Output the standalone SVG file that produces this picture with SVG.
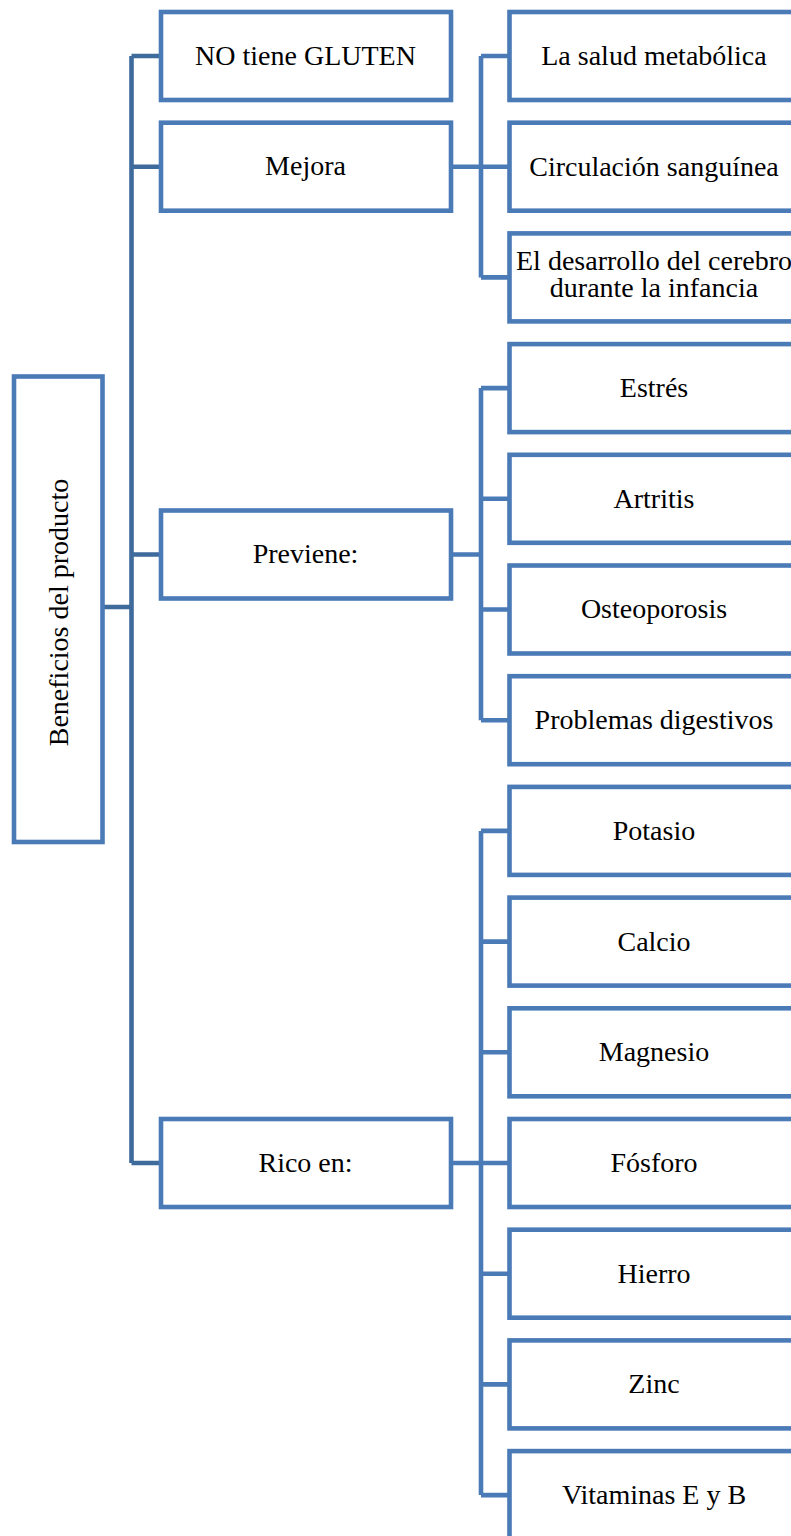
<svg xmlns="http://www.w3.org/2000/svg" width="791" height="1536" viewBox="0 0 791 1536">
  <style>
    .box { fill: #ffffff; stroke: #4a7bb7; stroke-width: 4.6; }
    .lbl { font-family: "Liberation Serif", "Times New Roman", serif; font-size: 28px; fill: #000000; text-anchor: middle; }
    .trunk { fill: none; stroke: #3e6a9c; stroke-width: 4.6; stroke-linejoin: round; }
    .branch { fill: none; stroke: #4a7bb7; stroke-width: 4.6; stroke-linejoin: round; }
  </style>
  <rect width="791" height="1536" fill="#ffffff"/>

  <!-- connectors -->
  <g id="connectors">
    <!-- root to first level -->
    <path class="trunk" d="M102.5 607 H131.5 M131.5 56 V1163 M131.5 56 H161 M131.5 166.7 H161 M131.5 554.5 H161 M131.5 1163 H161"/>
    <!-- Mejora children -->
    <path class="branch" d="M451 166.7 H481 M481 56 V277.4 M481 56 H509.5 M481 166.7 H509.5 M481 277.4 H509.5"/>
    <!-- Previene children -->
    <path class="branch" d="M451 554.5 H481 M481 388.1 V720.2 M481 388.1 H509.5 M481 498.8 H509.5 M481 609.5 H509.5 M481 720.2 H509.5"/>
    <!-- Rico en children -->
    <path class="branch" d="M451 1163 H481 M481 830.9 V1495.1 M481 830.9 H509.5 M481 941.6 H509.5 M481 1052.3 H509.5 M481 1163 H509.5 M481 1273.7 H509.5 M481 1384.4 H509.5 M481 1495.1 H509.5"/>
  </g>

  <!-- root -->
  <g id="root">
    <rect class="box" x="14" y="376.5" width="88.5" height="465.5"/>
    <text class="lbl" transform="translate(67.5 612.5) rotate(-90)">Beneficios del producto</text>
  </g>

  <!-- first level -->
  <g id="n-gluten">
    <rect class="box" x="161" y="12" width="290" height="88"/>
    <text class="lbl" x="305.5" y="64.5">NO tiene GLUTEN</text>
  </g>
  <g id="n-mejora">
    <rect class="box" x="161" y="122.7" width="290" height="88"/>
    <text class="lbl" x="305.5" y="175">Mejora</text>
  </g>
  <g id="n-previene">
    <rect class="box" x="161" y="510.5" width="290" height="88"/>
    <text class="lbl" x="305.5" y="563">Previene:</text>
  </g>
  <g id="n-rico">
    <rect class="box" x="161" y="1119" width="290" height="88"/>
    <text class="lbl" x="305.5" y="1172">Rico en:</text>
  </g>

  <!-- second level -->
  <g id="n-metabolica">
    <rect class="box" x="509.5" y="12" width="290" height="88"/>
    <text class="lbl" x="654" y="64.5">La salud metabólica</text>
  </g>
  <g id="n-circulacion">
    <rect class="box" x="509.5" y="122.7" width="290" height="88"/>
    <text class="lbl" x="654" y="175.5">Circulación sanguínea</text>
  </g>
  <g id="n-cerebro">
    <rect class="box" x="509.5" y="233.4" width="290" height="88"/>
    <text class="lbl" x="654" y="270">El desarrollo del cerebro</text>
    <text class="lbl" x="654" y="297">durante la infancia</text>
  </g>
  <g id="n-estres">
    <rect class="box" x="509.5" y="344.1" width="290" height="88"/>
    <text class="lbl" x="654" y="397">Estrés</text>
  </g>
  <g id="n-artritis">
    <rect class="box" x="509.5" y="454.8" width="290" height="88"/>
    <text class="lbl" x="654" y="507.5">Artritis</text>
  </g>
  <g id="n-osteoporosis">
    <rect class="box" x="509.5" y="565.5" width="290" height="88"/>
    <text class="lbl" x="654" y="618">Osteoporosis</text>
  </g>
  <g id="n-digestivos">
    <rect class="box" x="509.5" y="676.2" width="290" height="88"/>
    <text class="lbl" x="654" y="729">Problemas digestivos</text>
  </g>
  <g id="n-potasio">
    <rect class="box" x="509.5" y="786.9" width="290" height="88"/>
    <text class="lbl" x="654" y="840">Potasio</text>
  </g>
  <g id="n-calcio">
    <rect class="box" x="509.5" y="897.6" width="290" height="88"/>
    <text class="lbl" x="654" y="950.5">Calcio</text>
  </g>
  <g id="n-magnesio">
    <rect class="box" x="509.5" y="1008.3" width="290" height="88"/>
    <text class="lbl" x="654" y="1061">Magnesio</text>
  </g>
  <g id="n-fosforo">
    <rect class="box" x="509.5" y="1119" width="290" height="88"/>
    <text class="lbl" x="654" y="1172">Fósforo</text>
  </g>
  <g id="n-hierro">
    <rect class="box" x="509.5" y="1229.7" width="290" height="88"/>
    <text class="lbl" x="654" y="1282.5">Hierro</text>
  </g>
  <g id="n-zinc">
    <rect class="box" x="509.5" y="1340.4" width="290" height="88"/>
    <text class="lbl" x="654" y="1393">Zinc</text>
  </g>
  <g id="n-vitaminas">
    <rect class="box" x="509.5" y="1451.1" width="290" height="88"/>
    <text class="lbl" x="654" y="1504">Vitaminas E y B</text>
  </g>
</svg>
